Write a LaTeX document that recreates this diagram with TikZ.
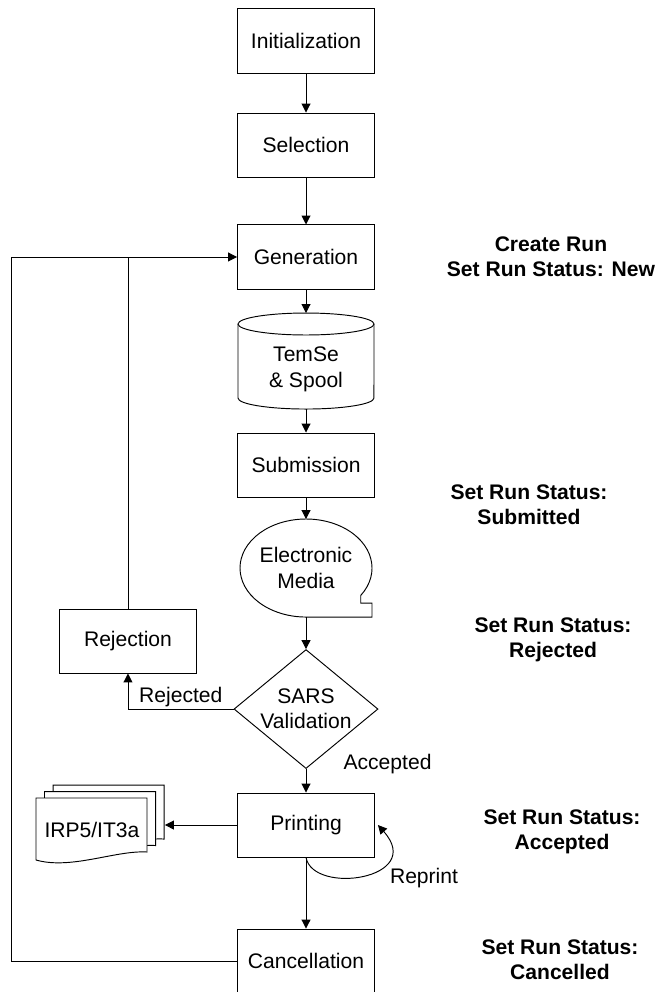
\documentclass[tikz,border=0pt]{standalone}
\usepackage{fontspec}
\setmainfont{Liberation Sans}
\usepackage{tikz}
\usetikzlibrary{positioning, arrows.meta, shapes.geometric}

\begin{document}
\begin{tikzpicture}[
    line width=0.45pt,
    box/.style={rectangle, draw, minimum width=2.283cm, minimum height=1.067cm},
    store/.style={rectangle, minimum width=2.267cm, minimum height=1.6cm, outer sep=0pt, align=center},
    media/.style={rectangle, minimum width=2.2cm, minimum height=1.633cm, outer sep=0pt, align=center},
    decision/.style={diamond, draw, aspect=1.2, inner sep=0pt, minimum width=2.4cm, minimum height=1.983cm, align=center},
    page/.style={draw, fill=white},
    flow/.style={-{Triangle[length=4.2pt, width=4.2pt]}},
    lbl/.style={inner sep=1pt},
    status/.style={font=\bfseries, align=center}
]
\useasboundingbox (0,0) rectangle (10.95,-16.533);

\node[box] (init) at (5.1, -0.683) {Initialization};
\node[box] (sel) at (5.1, -2.417) {Selection};
\node[box] (gen) at (5.1, -4.283) {Generation};
\node[store] (temse) at (5.1, -6.017) {\raisebox{0pt}[\dimexpr\height+0.28cm\relax]{\begin{tabular}{@{}c@{}}TemSe\\\& Spool\end{tabular}}};
\node[box] (sub) at (5.1, -7.75) {Submission};
\node[media] (elmedia) at (5.1, -9.467) {Electronic\\Media};
\node[decision] (sars) at (5.1, -11.817) {SARS\\Validation};
\node[box] (rej) at (2.133, -10.683) {Rejection};
\node[box] (print) at (5.1, -13.75) {Printing};
\node[box] (cancel) at (5.1, -16.017) {Cancellation};

\draw ([yshift=-0.183cm]temse.north west) -- ([yshift=0.183cm]temse.south west)
    arc[start angle=180, end angle=360, x radius=1.133cm, y radius=0.183cm]
    -- ([yshift=-0.183cm]temse.north east);
\draw ([yshift=-0.183cm]temse.north) ellipse [x radius=1.133cm, y radius=0.183cm];

\draw ([shift={(-34:1.1cm and 0.817cm)}]elmedia.center)
    arc[start angle=-34, end angle=270, x radius=1.1cm, y radius=0.817cm]
    -- ++(1.1,0) -- ++(0,0.233) -- ++(-0.188,0) -- cycle;

\coordinate (docnw) at (0.6, -13.3);
\foreach \k in {2,1,0}
    \draw[page] ([shift={(0.142*\k,0.108*\k)}]docnw) -- ++(1.85,0) -- ++(0,-0.9)
        .. controls +(-0.517,0.033) and +(0.583,-0.167) .. ++(-1.85,-0.133) -- cycle;
\node[minimum width=1.85cm, minimum height=1.033cm, anchor=north west] (doc) at (docnw) {IRP5/IT3a};
\coordinate (docin) at ([xshift=0.283cm]doc.east);
\coordinate (loopx) at (0.183, 0);

\draw[flow] (init) -- (sel);
\draw[flow] (sel) -- (gen);
\draw[flow] (gen) -- (temse.north);
\draw[flow] (temse.south) -- (sub);
\draw[flow] (sub) -- (elmedia.north);
\draw[flow] (elmedia.south) -- (sars.north);
\draw[flow] (sars.south) -- node[at start, lbl, anchor=west, xshift=0.583cm, yshift=0.083cm] {Accepted} (print.north);
\draw[flow] (sars.west) -| node[pos=0.25, lbl, above] {Rejected} (rej.south);
\draw (rej.north) -- (rej.north |- gen.west);
\draw[flow] (print.west) -- (print.west -| docin);
\draw[flow] (print.south) .. controls +(0.12,-0.63) and +(0.8,-0.9) .. ([xshift=0.05cm]print.east);
\draw[flow] (print) -- (cancel);
\draw[flow] (cancel.west) -| (loopx |- gen.west) -- (gen.west);

\node[lbl] (reprint) at (7.067, -14.633) {Reprint};

\node[status] (stnew) at (9.183, -4.283) {Create Run\\Set Run Status: New};
\node[status] (stsub) at (8.817, -8.417) {Set Run Status:\\Submitted};
\node[status] (strej) at (9.217, -10.667) {Set Run Status:\\Rejected};
\node[status] (stacc) at (9.367, -13.867) {Set Run Status:\\Accepted};
\node[status] (stcan) at (9.333, -16.0) {Set Run Status:\\Cancelled};

\end{tikzpicture}
\end{document}
